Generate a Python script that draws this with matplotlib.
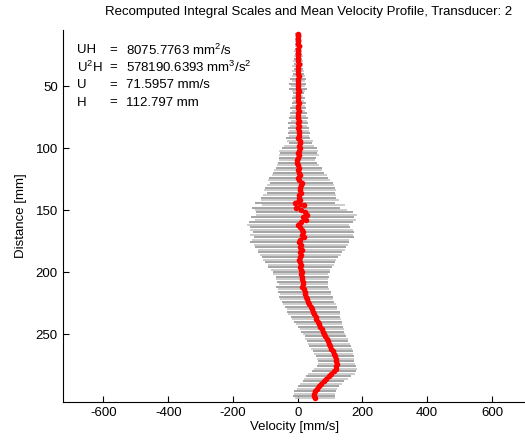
import numpy as np
import matplotlib
matplotlib.use("Agg")
import matplotlib.pyplot as plt

plt.rcParams['font.family'] = ['Liberation Sans', 'DejaVu Sans']
plt.rcParams['mathtext.default'] = 'regular'
plt.rcParams['font.size'] = 9.5
plt.rcParams['axes.unicode_minus'] = False

# depth of each measurement bin [mm]
depth = np.arange(8, 304, 2)

# mean velocity [mm/s]
mean_vel = [
    1, 2, 0, 2, 1, 3, 1, 0, 2, 1,
    2, 1, 3, 0, 2, 1, 2, 3, 1, 2,
    0, 2, 1, 3, 2, 0, 2, 1, 3, 2,
    1, 3, 2, 0, 2, 4, 1, 3, 2, 4,
    3, 5, 2, 6, 8, 4, 6, 3, 2, 5,
    0, -3, -1, 2, 4, 1, 3, 6, 2, 5,
    12, 9, 6, 7, 10, 5, 3, 8, -8, 18,
    -5, 10, 22, 28, 15, 25, 10, 0, 7, 12,
    17, 12, 20, 8, 5, 10, 8, 12, 6, 9,
    7, 5, 8, 10, 7, 9, 12, 10, 14, 13,
    15, 17, 14, 18, 22, 24, 26, 28, 32, 36,
    40, 44, 48, 50, 55, 58, 62, 66, 70, 74,
    77, 81, 85, 89, 92, 96, 100, 104, 108, 111,
    115, 117, 119, 120, 119, 117, 113, 104, 96, 88,
    80, 72, 65, 59, 54, 51, 50, 53,
]

# standard deviation [mm/s]
std_vel = [
    8, 10, 7, 11, 9, 12, 10, 13, 11, 14,
    12, 15, 13, 17, 14, 18, 16, 20, 24, 19,
    26, 22, 28, 20, 18, 16, 20, 17, 22, 19,
    24, 21, 27, 25, 29, 24, 31, 27, 33, 30,
    34, 31, 37, 40, 36, 45, 55, 60, 57, 62,
    58, 56, 60, 65, 70, 74, 78, 85, 92, 96,
    98, 104, 108, 110, 106, 112, 116, 120, 124, 128,
    135, 142, 150, 156, 158, 156, 160, 158, 155, 160,
    156, 158, 154, 150, 152, 145, 140, 135, 130, 125,
    118, 112, 108, 102, 98, 92, 88, 85, 82, 80,
    78, 76, 80, 78, 82, 80, 84, 82, 80, 83,
    80, 78, 82, 80, 77, 76, 74, 72, 70, 68,
    66, 65, 64, 66, 63, 64, 66, 64, 62, 60,
    58, 56, 55, 56, 60, 66, 68, 72, 70, 68,
    64, 66, 64, 62, 64, 63, 65, 62,
]

info_names = ['UH', 'U$^2$H', 'U', 'H']
info_vals = ['8075.7763 mm$^2$/s', '578190.6393 mm$^3$/s$^2$',
             '71.5957 mm/s', '112.797 mm']

mean_vel = np.array(mean_vel)
std_vel = np.array(std_vel)

fig = plt.figure(figsize=(5.25, 4.41), dpi=100)
ax = fig.add_axes([0.1206, 0.0891, 0.8794, 0.8429])

ax.errorbar(mean_vel[0::2], depth[0::2], xerr=std_vel[0::2], fmt='none',
            ecolor='#959595', elinewidth=1.2)
ax.errorbar(mean_vel[1::2], depth[1::2], xerr=std_vel[1::2], fmt='none',
            ecolor='#c4c4c4', elinewidth=1.2)
ax.plot(mean_vel, depth, '.-', color='red', lw=2, ms=6)

ax.set_xlim(-724, 702)
ax.set_ylim(304.6, 4.8)
ax.set_xticks([-600, -400, -200, 0, 200, 400, 600])
ax.set_yticks([50, 100, 150, 200, 250])
ax.tick_params(direction='in', length=4, pad=4)
ax.spines['top'].set_visible(False)
ax.spines['right'].set_visible(False)
ax.set_xlabel('Velocity [mm/s]', labelpad=1)
ax.set_ylabel('Distance [mm]', labelpad=6)

fig.text(309 / 525, 1 - 12 / 441, 'Recomputed Integral Scales and Mean Velocity Profile, Transducer: 2',
         ha='center', va='center')

for i in range(len(info_names)):
    yy = 1 - (50 + 17.5 * i) / 441
    fig.text(77 / 525, yy, info_names[i], va='center')
    fig.text(109 / 525, yy, '=', va='center')
    fig.text(126 / 525, yy, info_vals[i], va='center')

fig.savefig('out.png', dpi=100)
